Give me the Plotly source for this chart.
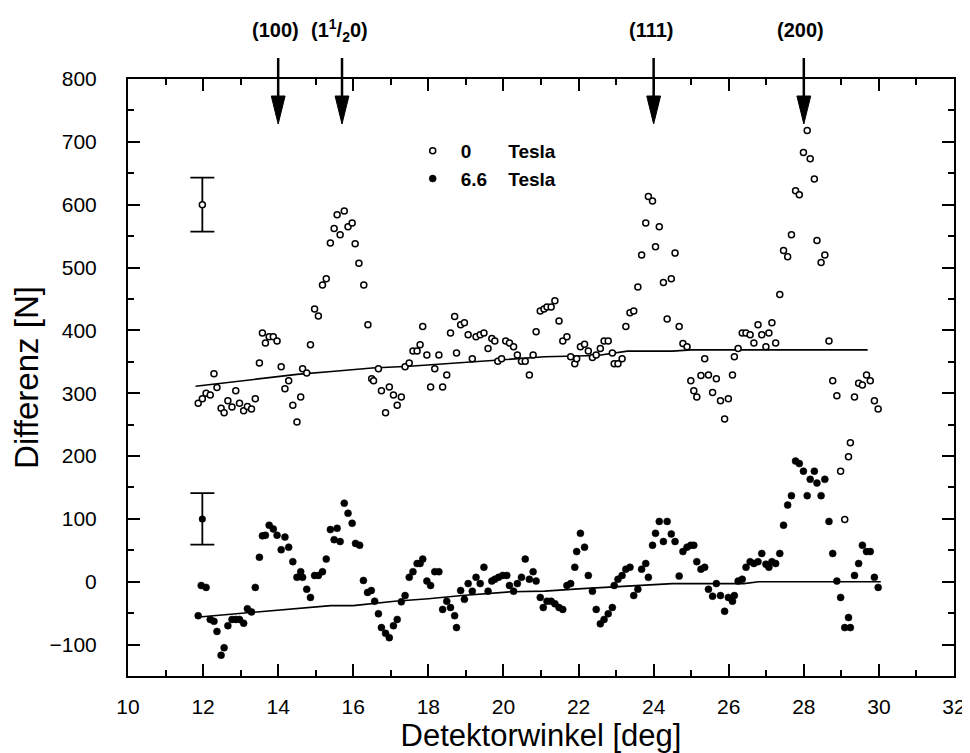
import plotly.graph_objects as go

# ---------------- data ----------------
open_x = [11.87, 11.98, 12.08, 12.19, 12.29, 12.37, 12.48, 12.56, 12.66, 12.77, 12.87, 12.97, 13.08, 13.18, 13.29, 13.39,
          13.50, 13.58, 13.66, 13.76, 13.87, 13.97, 14.08, 14.18, 14.28, 14.39, 14.50, 14.60, 14.65, 14.76, 14.86, 14.97,
          15.07, 15.18, 15.28, 15.39, 15.49, 15.57, 15.65, 15.76, 15.86, 15.97, 16.05, 16.15, 16.28, 16.39, 16.49, 16.54,
          16.67, 16.75, 16.86, 16.96, 17.07, 17.17, 17.28, 17.38, 17.49, 17.59, 17.70, 17.78, 17.85, 17.96, 18.06, 18.17,
          18.28, 18.38, 18.49, 18.59, 18.70, 18.75, 18.86, 18.96, 19.06, 19.17, 19.27, 19.38, 19.48, 19.59, 19.69, 19.77,
          19.85, 19.95, 20.06, 20.16, 20.27, 20.37, 20.48, 20.58, 20.69, 20.79, 20.87, 20.98, 21.08, 21.16, 21.27, 21.37,
          21.48, 21.58, 21.69, 21.79, 21.90, 21.95, 22.05, 22.16, 22.26, 22.37, 22.47, 22.58, 22.68, 22.79, 22.90, 22.95,
          23.05, 23.16, 23.26, 23.37, 23.47, 23.58, 23.68, 23.79, 23.86, 23.97, 24.05, 24.15, 24.26, 24.36, 24.47, 24.57,
          24.68, 24.78, 24.89, 24.99, 25.07, 25.15, 25.26, 25.36, 25.46, 25.57, 25.67, 25.78, 25.89, 25.99, 26.10, 26.15,
          26.25, 26.36, 26.46, 26.57, 26.67, 26.78, 26.88, 26.99, 27.07, 27.15, 27.25, 27.36, 27.46, 27.57, 27.67, 27.78,
          27.88, 27.99, 28.09, 28.17, 28.28, 28.35, 28.46, 28.56, 28.67, 28.77, 28.88, 28.98, 29.09, 29.19, 29.24, 29.35,
          29.46, 29.56, 29.67, 29.77, 29.88, 29.98]
open_y = [284, 291, 300, 297, 331, 309, 276, 269, 288, 278, 304, 284, 272, 279, 275, 291,
          348, 396, 380, 390, 390, 383, 342, 307, 320, 281, 254, 294, 339, 332, 377, 434,
          423, 472, 482, 539, 562, 584, 552, 590, 565, 571, 538, 507, 472, 409, 323, 320,
          339, 304, 269, 310, 297, 281, 294, 342, 348, 367, 367, 377, 406, 361, 310, 339,
          361, 310, 329, 396, 422, 364, 409, 412, 393, 355, 390, 393, 396, 371, 387, 383,
          351, 355, 383, 380, 374, 361, 351, 351, 329, 361, 398, 431, 434, 437, 437, 447,
          415, 383, 390, 358, 347, 355, 374, 378, 367, 357, 361, 371, 383, 383, 364, 347,
          347, 355, 406, 428, 431, 469, 520, 571, 613, 606, 533, 565, 476, 418, 482, 523,
          406, 379, 374, 320, 304, 294, 328, 355, 329, 301, 323, 288, 259, 291, 329, 358,
          371, 396, 396, 393, 380, 409, 393, 374, 396, 412, 380, 457, 527, 517, 552, 622,
          616, 683, 718, 673, 641, 543, 508, 520, 383, 320, 296, 176, 99, 199, 221, 294,
          316, 313, 329, 320, 288, 275]

fill_x = [11.87, 11.95, 12.08, 12.19, 12.29, 12.37, 12.48, 12.56, 12.66, 12.77, 12.87, 12.97, 13.08, 13.18, 13.29, 13.39,
          13.50, 13.58, 13.66, 13.76, 13.87, 13.97, 14.08, 14.18, 14.28, 14.39, 14.50, 14.60, 14.65, 14.76, 14.86, 14.97,
          15.07, 15.18, 15.28, 15.39, 15.49, 15.57, 15.65, 15.76, 15.86, 15.97, 16.06, 16.17, 16.27, 16.38, 16.48, 16.57,
          16.67, 16.75, 16.86, 16.96, 17.07, 17.17, 17.28, 17.38, 17.49, 17.59, 17.70, 17.78, 17.85, 17.96, 18.06, 18.17,
          18.28, 18.38, 18.49, 18.59, 18.70, 18.75, 18.86, 18.96, 19.06, 19.17, 19.27, 19.38, 19.48, 19.59, 19.69, 19.77,
          19.87, 19.98, 20.09, 20.16, 20.27, 20.37, 20.48, 20.58, 20.69, 20.79, 20.87, 20.98, 21.06, 21.16, 21.27, 21.37,
          21.48, 21.58, 21.69, 21.79, 21.90, 21.95, 22.05, 22.16, 22.26, 22.37, 22.47, 22.58, 22.68, 22.79, 22.90, 22.95,
          23.05, 23.16, 23.26, 23.37, 23.47, 23.58, 23.68, 23.79, 23.86, 23.97, 24.05, 24.15, 24.26, 24.36, 24.47, 24.57,
          24.68, 24.78, 24.89, 24.99, 25.07, 25.15, 25.26, 25.36, 25.46, 25.57, 25.67, 25.78, 25.89, 25.99, 26.10, 26.15,
          26.25, 26.36, 26.46, 26.57, 26.67, 26.78, 26.88, 26.99, 27.07, 27.15, 27.25, 27.36, 27.46, 27.57, 27.67, 27.78,
          27.88, 27.99, 28.09, 28.17, 28.28, 28.35, 28.46, 28.56, 28.67, 28.77, 28.88, 28.98, 29.09, 29.19, 29.24, 29.35,
          29.46, 29.56, 29.67, 29.77, 29.88, 29.98]
fill_y = [-54, -6, -9, -60, -63, -79, -117, -105, -70, -60, -60, -60, -66, -43, -48, -9,
          39, 73, 74, 90, 84, 74, 51, 71, 55, 32, 7, 16, 7, -12, -25, 10,
          10, 16, 36, 83, 67, 85, 64, 125, 109, 93, 61, 58, 2, -17, -14, -31,
          -51, -73, -82, -89, -70, -60, -32, -22, 7, 16, 29, 29, 36, 1, -6, 16,
          16, -44, -31, -41, -54, -73, -14, -28, -3, -15, 7, -3, 23, -15, 1, 4,
          7, 10, 10, -6, -15, -3, 7, 36, 4, 16, 1, -25, -41, -31, -31, -35,
          -41, -44, -6, -3, 23, 48, 77, 55, 10, -15, -44, -67, -60, -51, -41, -6,
          4, 10, 20, 23, -22, -12, 20, 29, 7, 58, 77, 96, 64, 96, 76, 64,
          9, 48, 55, 58, 58, 32, 20, 23, -12, -23, -3, -22, -47, -25, -31, -22,
          1, 4, 23, 32, 29, 32, 45, 28, 23, 32, 29, 45, 90, 122, 137, 192,
          188, 176, 137, 163, 176, 157, 137, 163, 96, 45, 1, -25, -73, -57, -73, 10,
          29, 58, 48, 48, 7, -9]

# smooth background curves
open_fit_x = [11.8, 13.6, 14.5, 15.5, 16.5, 17.5, 18.5, 19.5, 20.5, 21.1, 22.5, 23.3, 24.5, 25.0, 29.7]
open_fit_y = [311, 324, 330, 335, 340, 343, 347, 351, 355, 358, 360, 367, 367, 369, 369]
fill_fit_x = [11.9, 15.4, 16.0, 17.1, 18.0, 18.9, 20.2, 21.1, 22.1, 23.25, 24.5, 26.4, 26.8, 30.05]
fill_fit_y = [-56, -38, -38, -31, -27, -22, -16, -15, -11, -7, -3, -3, 0, 0]

# representative error bars
err_x = [11.98, 11.98]
err_y = [600, 100]
err_size = [43, 41]

# Bragg peak markers
peak_pos = [14.0, 15.7, 24.0, 28.0]
peak_labels = ["(100)", "(1<sup>1</sup>/<sub>2</sub>0)", "(111)", "(200)"]

series_names = ["0\u00a0\u00a0\u00a0\u00a0\u00a0\u00a0\u00a0Tesla", "6.6\u00a0\u00a0\u00a0\u00a0Tesla"]

x_ticks = list(range(10, 33, 2))
x_minor = list(range(11, 32, 2))
y_ticks = list(range(-100, 801, 100))
y_minor = list(range(-50, 751, 100))

X_RANGE = [10, 32]
Y_RANGE = [-150, 800]

# ---------------- figure ----------------
W, H = 970, 753
ML, MR, MT, MB = 118, 14, 71, 85
FONT = "Liberation Sans, Arial, sans-serif"

fig = go.Figure()

fig.add_trace(go.Scatter(x=open_fit_x, y=open_fit_y, mode="lines",
                         line=dict(color="black", width=1.6), showlegend=False, hoverinfo="skip"))
fig.add_trace(go.Scatter(x=fill_fit_x, y=fill_fit_y, mode="lines",
                         line=dict(color="black", width=1.6), showlegend=False, hoverinfo="skip"))

fig.add_trace(go.Scatter(x=open_x, y=open_y, mode="markers", name=series_names[0],
                         marker=dict(symbol="circle", size=6, color="white",
                                     line=dict(color="black", width=1.5))))
fig.add_trace(go.Scatter(x=fill_x, y=fill_y, mode="markers", name=series_names[1],
                         marker=dict(symbol="circle", size=7, color="black",
                                     line=dict(color="black", width=0.5))))

fig.add_trace(go.Scatter(x=[err_x[0]], y=[err_y[0]], mode="markers", showlegend=False,
                         marker=dict(symbol="circle", size=6, color="white",
                                     line=dict(color="black", width=1.5)),
                         error_y=dict(type="data", array=[err_size[0]], color="black",
                                      thickness=1.8, width=12)))
fig.add_trace(go.Scatter(x=[err_x[1]], y=[err_y[1]], mode="markers", showlegend=False,
                         marker=dict(symbol="circle", size=7, color="black"),
                         error_y=dict(type="data", array=[err_size[1]], color="black",
                                      thickness=1.8, width=12)))

# arrows (paper coordinates computed from data x and pixel heights)
plot_w = W - ML - MR
plot_h = H - MT - MB


def px_to_paper_y(py):
    return (H - MB - py) / plot_h


def xdata_to_paper(xv):
    return (xv - X_RANGE[0]) / (X_RANGE[1] - X_RANGE[0])


shaft_top, head_base, head_tip, label_py = 50, 88, 116, 22
half_w = 7.0 / plot_w
shapes = []
annotations = []
for p, lab in zip(peak_pos, peak_labels):
    xp = xdata_to_paper(p)
    shapes.append(dict(type="line", xref="paper", yref="paper",
                       x0=xp, x1=xp, y0=px_to_paper_y(shaft_top), y1=px_to_paper_y(head_base + 2),
                       line=dict(color="black", width=2.5)))
    shapes.append(dict(type="path", xref="paper", yref="paper",
                       path=f"M {xp - half_w} {px_to_paper_y(head_base)} L {xp + half_w} {px_to_paper_y(head_base)} "
                            f"L {xp} {px_to_paper_y(head_tip)} Z",
                       fillcolor="black", line=dict(color="black", width=1)))
    annotations.append(dict(x=xp - 3.0 / plot_w, y=px_to_paper_y(label_py), xref="paper", yref="paper",
                            text=f"<b>{lab}</b>", showarrow=False, xanchor="center", yanchor="middle",
                            font=dict(family=FONT, size=20, color="black")))

fig.update_layout(
    width=W, height=H,
    margin=dict(l=ML, r=MR, t=MT, b=MB),
    paper_bgcolor="white", plot_bgcolor="white",
    font=dict(family=FONT, color="black"),
    showlegend=True,
    legend=dict(x=xdata_to_paper(17.37), y=px_to_paper_y(124), xanchor="left", yanchor="top",
                bgcolor="rgba(0,0,0,0)", borderwidth=0, tracegroupgap=0, itemwidth=46,
                font=dict(family=FONT, size=19, color="black", weight="bold")),
    shapes=shapes,
    annotations=annotations,
)

fig.update_xaxes(range=X_RANGE, tickmode="array", tickvals=x_ticks,
                 ticks="inside", ticklen=12, tickwidth=1.5, tickcolor="black",
                 minor=dict(tickmode="array", tickvals=x_minor, ticks="inside",
                            ticklen=6, tickwidth=1.5, tickcolor="black"),
                 showline=True, linecolor="black", linewidth=2, mirror="allticks",
                 showgrid=False, zeroline=False,
                 tickfont=dict(family=FONT, size=21), ticklabelstandoff=11,
                 title=dict(text="Detektorwinkel [deg]", font=dict(family=FONT, size=31), standoff=4))
fig.update_yaxes(range=Y_RANGE, tickmode="array", tickvals=y_ticks,
                 ticks="inside", ticklen=12, tickwidth=1.5, tickcolor="black",
                 minor=dict(tickmode="array", tickvals=y_minor, ticks="inside",
                            ticklen=6, tickwidth=1.5, tickcolor="black"),
                 showline=True, linecolor="black", linewidth=2, mirror="allticks",
                 showgrid=False, zeroline=False,
                 tickfont=dict(family=FONT, size=21), ticklabelstandoff=25,
                 title=dict(text="Differenz [N]", font=dict(family=FONT, size=33), standoff=6))

fig.write_html("out.html")
